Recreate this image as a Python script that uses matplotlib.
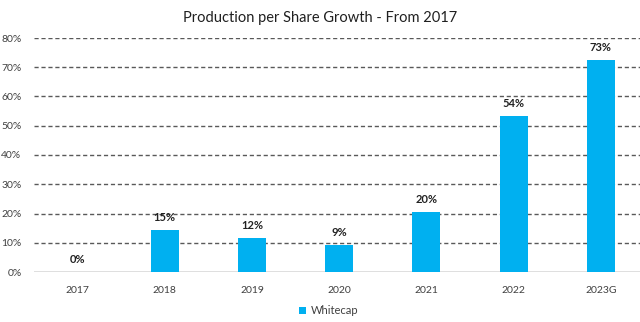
import matplotlib.pyplot as plt
from matplotlib.ticker import FuncFormatter

categories = ["2017", "2018", "2019", "2020", "2021", "2022", "2023G"]
growth = [0.0, 14.4, 11.6, 9.2, 20.5, 53.3, 72.5]
labels = ["0%", "15%", "12%", "9%", "20%", "54%", "73%"]

plt.rcParams['font.family'] = ['Lato', 'DejaVu Sans']

fig = plt.figure(figsize=(6.4, 3.22), dpi=100)
ax = fig.add_axes([34 / 640, 50 / 322, 606 / 640, 234 / 322])

x = range(len(categories))
bars = ax.bar(x, growth, width=0.32, color="#00B0F0", label="Whitecap", zorder=3)

for b, lab in zip(bars, labels):
    ax.annotate(lab, (b.get_x() + b.get_width() / 2, b.get_height()),
                xytext=(0, 5), textcoords="offset points", ha="center", va="bottom",
                fontsize=8, fontweight="bold", color="#222222")

ax.set_xlim(-0.5, 6.45)
ax.set_ylim(0, 80)
ax.set_yticks(range(0, 81, 10))
ax.yaxis.set_major_formatter(FuncFormatter(lambda v, p: f"{int(v)}%"))
ax.set_xticks(list(x))
ax.set_xticklabels(categories)
ax.tick_params(axis="both", length=0, labelsize=7.5, colors="#404040")
ax.tick_params(axis="x", pad=10)
ax.tick_params(axis="y", pad=9)

for v in range(10, 81, 10):
    ax.axhline(v, color="#595959", linestyle=(0, (3, 2)), linewidth=1.0, zorder=1)
ax.axhline(0, color="#D9D9D9", linewidth=1.2, zorder=2)

for s in ax.spines.values():
    s.set_visible(False)

fig.text(0.5, 0.945, "Production per Share Growth - From 2017", ha="center", va="center",
         fontsize=10.5, color="#202020")
fig.legend(loc="center", bbox_to_anchor=(329 / 640, 11 / 322), frameon=False, fontsize=8,
           handlelength=0.6, handleheight=0.6, handletextpad=0.5, labelcolor="#404040")

fig.savefig("out.png", dpi=100)
